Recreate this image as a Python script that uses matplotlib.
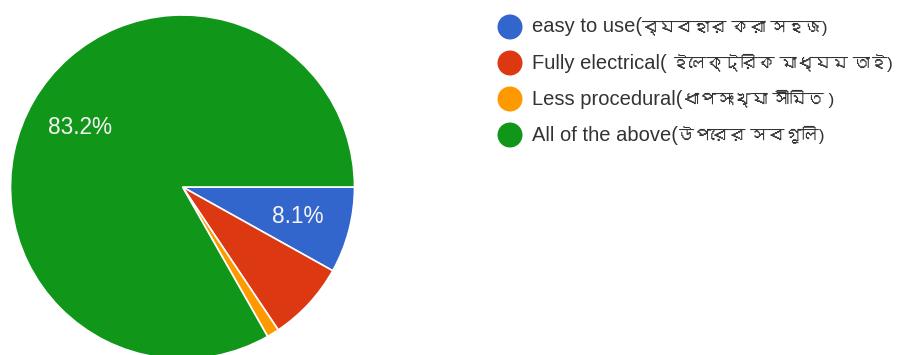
import matplotlib
matplotlib.use("Agg")
import matplotlib.pyplot as plt
from matplotlib import font_manager
from matplotlib.patches import Circle
from matplotlib.offsetbox import (AnchoredOffsetbox, DrawingArea, HPacker,
                                  TextArea)

# responses per option (n = 173)
labels_en = [
    "easy to use(",
    "Fully electrical( ",
    "Less procedural(",
    "All of the above(",
]
labels_bn = [
    "ব্যবহার করা সহজ)",
    "ইলেক্ট্রিক মাধ্যম তাই)",
    "ধাপসংখ্যা সীমিত )",
    "উপরের সবগুলি)",
]
counts = [14, 13, 2, 144]
colors = ["#3366cc", "#dc3912", "#ff9900", "#109618"]


def find_bengali_font():
    # any installed font that carries Bengali glyphs
    try:
        from fontTools.ttLib import TTFont
    except ImportError:
        return None
    for entry in font_manager.fontManager.ttflist:
        try:
            f = TTFont(entry.fname, fontNumber=0, lazy=True)
            cmap = f.getBestCmap() or {}
            if 0x09AC in cmap and 0x09B9 in cmap:
                return entry.name
        except Exception:
            continue
    return None


bn_font = find_bengali_font()
latin = ["Liberation Sans", "DejaVu Sans"]
# spaces and brackets from the latin face, the rest falls through
bengali = ["Liberation Sans", bn_font] if bn_font else latin

W, H = 897, 355
fig = plt.figure(figsize=(W / 100, H / 100), dpi=100)
ax = fig.add_axes([0, 0, 1, 1])


def pct_label(p):
    # small slices stay unlabelled
    return f"{p:.1f}%" if p > 8 else ""


wedges, texts, autotexts = ax.pie(
    counts,
    colors=colors,
    startangle=0,
    counterclock=False,
    center=(182.5, H - 187),
    radius=172,
    autopct=pct_label,
    pctdistance=0.69,
    wedgeprops=dict(edgecolor="white", linewidth=1.2),
    textprops=dict(color="#f4f4f4", fontsize=16.3, family=latin),
)

ax.set_xlim(0, W)
ax.set_ylim(0, H)
ax.set_aspect("equal")
ax.axis("off")

# legend rows: dot + english text + bengali text
for i, (en, bn, c) in enumerate(zip(labels_en, labels_bn, colors)):
    dot = DrawingArea(18, 18)
    dot.add_artist(Circle((9, 9), 9, facecolor=c, edgecolor="none"))
    words = HPacker(
        children=[
            TextArea(en, textprops=dict(family=latin, size=14.5, color="#333333")),
            TextArea(bn, textprops=dict(family=bengali, size=12.3, color="#333333")),
        ],
        align="baseline", pad=0, sep=0,
    )
    row = HPacker(children=[dot, words], align="center", pad=0, sep=6.5)
    box = AnchoredOffsetbox(
        loc="center left", child=row, pad=0, borderpad=0, frameon=False,
        bbox_to_anchor=(497.5 / W, 1 - (27 + 36 * i) / H),
        bbox_transform=fig.transFigure,
    )
    fig.add_artist(box)

fig.savefig("out.png", dpi=100, facecolor="white")
